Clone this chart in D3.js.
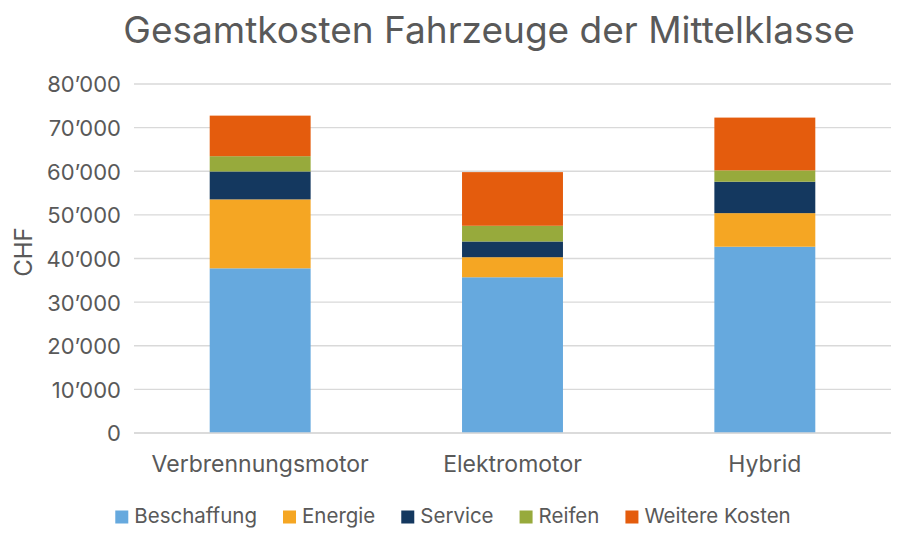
<!DOCTYPE html>
<html><head><meta charset="utf-8">
<script src="https://cdn.jsdelivr.net/npm/d3@7"></script>
<style>body{margin:0;background:#fff;} svg{display:block;font-family:Inter, "Noto Sans", sans-serif;}</style>
</head><body>
<svg id="c" width="900" height="534"></svg>
<script>
const categories = ["Verbrennungsmotor", "Elektromotor", "Hybrid"];
const seriesNames = ["Beschaffung", "Energie", "Service", "Reifen", "Weitere Kosten"];
const beschaffung = [37750, 35700, 42700];
const energie = [15800, 4600, 7700];
const service = [6400, 3600, 7200];
const reifen = [3500, 3600, 2600];
const weitere = [9300, 12300, 12100];
const yTicks = [0, 10000, 20000, 30000, 40000, 50000, 60000, 70000, 80000];
const colors = ["#66a9de", "#f5a623", "#14385f", "#97aa3c", "#e45c0d"];

const seriesVals = [beschaffung, energie, service, reifen, weitere];
const table = categories.map((c, i) => {
  const o = {cat: c};
  seriesNames.forEach((s, j) => o[s] = seriesVals[j][i]);
  return o;
});
const stack = d3.stack().keys(seriesNames)(table);

const svg = d3.select("#c");
const W = 900, H = 534;
svg.append("rect").attr("width", W).attr("height", H).attr("fill", "#fff");

const x = d3.scaleBand().domain(categories).range([134, 891]).paddingInner(0.6).paddingOuter(0.3);
const y = d3.scaleLinear().domain([0, 80000]).range([433, 84]);

const fmt = v => v === 0 ? "0" : d3.format(",")(v).replace(/,/g, "\u2019");

// gridlines
svg.append("g").selectAll("line").data(yTicks).join("line")
  .attr("x1", 134).attr("x2", 891)
  .attr("y1", d => y(d)).attr("y2", d => y(d))
  .attr("stroke", "#d9d9d9").attr("stroke-width", 1.3);

// y axis labels
const yAxis = d3.axisLeft(y).tickValues(yTicks).tickFormat(fmt).tickSize(0).tickPadding(0);
const ya = svg.append("g").attr("transform", "translate(121,0)").call(yAxis);
ya.select(".domain").remove();
ya.selectAll("text").attr("font-size", 22).attr("fill", "#595959").attr("font-family", "Inter, sans-serif").attr("dy", "0.36em");

// bars
svg.append("g").selectAll("g").data(stack).join("g")
  .attr("fill", (d, i) => colors[i])
  .selectAll("rect").data(d => d).join("rect")
  .attr("x", d => x(d.data.cat))
  .attr("width", x.bandwidth())
  .attr("y", d => y(d[1]))
  .attr("height", d => y(d[0]) - y(d[1]));

// x axis
const xAxis = d3.axisBottom(x).tickSize(0).tickPadding(0);
const xa = svg.append("g").attr("transform", "translate(0,472)").call(xAxis);
xa.select(".domain").remove();
xa.selectAll("text").attr("font-size", 23).attr("fill", "#595959").attr("font-family", "Inter, sans-serif").attr("dy", 0);

// baseline
svg.append("line").attr("x1", 134).attr("x2", 891).attr("y1", y(0)).attr("y2", y(0)).attr("stroke", "#d9d9d9").attr("stroke-width", 1.3);

// title
svg.append("text").attr("x", 489).attr("y", 43).attr("text-anchor", "middle")
  .attr("font-size", 37).attr("fill", "#595959").text("Gesamtkosten Fahrzeuge der Mittelklasse");

// y label
svg.append("text").attr("transform", "translate(32,252) rotate(-90)").attr("text-anchor", "middle")
  .attr("font-size", 24).attr("fill", "#595959").text("CHF");

// legend
const lg = svg.append("g");
let lx = 0;
seriesNames.forEach((s, i) => {
  const g = lg.append("g");
  g.append("rect").attr("x", lx).attr("y", -12.5).attr("width", 13).attr("height", 13).attr("fill", colors[i]);
  const t = g.append("text").attr("x", lx + 19).attr("y", 0).attr("font-size", 20.5).attr("fill", "#595959").text(s);
  const w = t.node().getComputedTextLength();
  lx += 19 + w + 26;
});
const totalW = lx - 26;
lg.attr("transform", `translate(${453 - totalW / 2},523)`);
</script>
</body></html>
